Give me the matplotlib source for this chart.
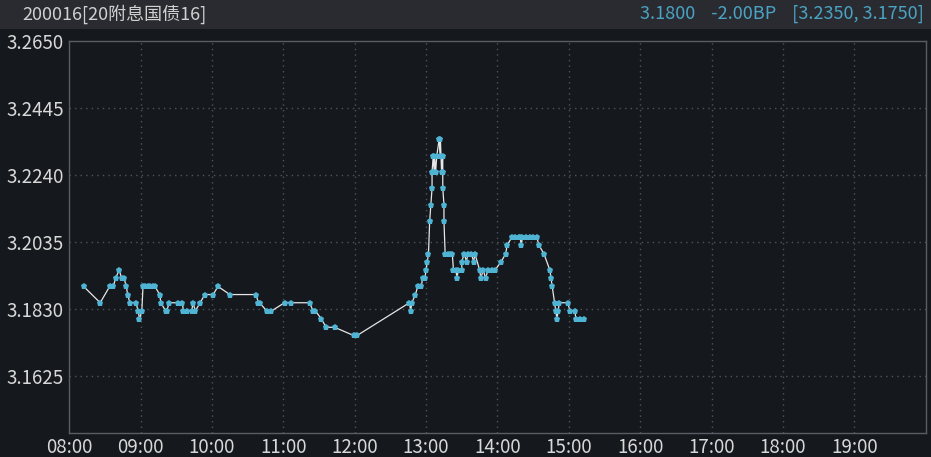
import matplotlib.pyplot as plt
from matplotlib.patches import Rectangle

plt.rcParams['font.family'] = ['Noto Sans CJK SC', 'DejaVu Sans']

title_left = "200016[20附息国债16]"
title_right = "3.1800    -2.00BP    [3.2350, 3.1750]"

y_ticks = [3.1625, 3.1830, 3.2035, 3.2240, 3.2445, 3.2650]
x_ticks = ["08:00", "09:00", "10:00", "11:00", "12:00", "13:00",
           "14:00", "15:00", "16:00", "17:00", "18:00", "19:00"]

times = [
    "08:12", "08:26", "08:34", "08:37", "08:39", "08:42", "08:44", "08:46",
    "08:48", "08:49", "08:51", "08:56", "08:58", "08:59", "09:01", "09:02",
    "09:04", "09:06", "09:08", "09:10", "09:12", "09:16", "09:17", "09:21",
    "09:22", "09:24", "09:31", "09:35", "09:36", "09:39", "09:43", "09:44",
    "09:46", "09:50", "09:54", "10:01", "10:05", "10:15", "10:37", "10:39",
    "10:40", "10:46", "10:50", "11:01", "11:06", "11:22", "11:25", "11:27",
    "11:32", "11:36", "11:43", "11:59", "12:02", "12:46", "12:47", "12:48",
    "12:51", "12:53", "12:56", "12:57", "12:59", "13:00", "13:01", "13:02",
    "13:03", "13:04", "13:05", "13:05", "13:06", "13:07", "13:07", "13:08",
    "13:09", "13:11", "13:12", "13:12", "13:13", "13:14", "13:14", "13:14",
    "13:15", "13:15", "13:16", "13:18", "13:20", "13:22", "13:23", "13:25",
    "13:26", "13:27", "13:30", "13:30", "13:32", "13:34", "13:35", "13:38",
    "13:40", "13:41", "13:45", "13:46", "13:48", "13:50", "13:52", "13:55",
    "13:58", "14:03", "14:07", "14:08", "14:12", "14:15", "14:18", "14:19",
    "14:20", "14:21", "14:24", "14:27", "14:30", "14:33", "14:35", "14:39",
    "14:44", "14:45", "14:46", "14:48", "14:49", "14:50", "14:51", "14:52",
    "14:59", "15:01", "15:05", "15:06", "15:09", "15:13",
]
prices = [
    3.1900, 3.1850, 3.1900, 3.1900, 3.1925, 3.1950, 3.1925, 3.1925,
    3.1900, 3.1875, 3.1850, 3.1850, 3.1825, 3.1800, 3.1825, 3.1900,
    3.1900, 3.1900, 3.1900, 3.1900, 3.1900, 3.1875, 3.1850, 3.1825,
    3.1825, 3.1850, 3.1850, 3.1850, 3.1825, 3.1825, 3.1825, 3.1850,
    3.1825, 3.1850, 3.1875, 3.1875, 3.1900, 3.1875, 3.1875, 3.1850,
    3.1850, 3.1825, 3.1825, 3.1850, 3.1850, 3.1850, 3.1825, 3.1825,
    3.1800, 3.1775, 3.1775, 3.1750, 3.1750, 3.1850, 3.1825, 3.1850,
    3.1875, 3.1900, 3.1900, 3.1925, 3.1925, 3.1950, 3.1975, 3.2000,
    3.2100, 3.2150, 3.2200, 3.2250, 3.2300, 3.2250, 3.2300, 3.2250,
    3.2300, 3.2350, 3.2300, 3.2350, 3.2250, 3.2300, 3.2250, 3.2200,
    3.2150, 3.2100, 3.2000, 3.2000, 3.2000, 3.2000, 3.1950, 3.1950,
    3.1925, 3.1950, 3.1950, 3.1975, 3.2000, 3.1975, 3.2000, 3.2000,
    3.1975, 3.2000, 3.1950, 3.1925, 3.1950, 3.1925, 3.1950, 3.1950,
    3.1950, 3.1975, 3.2000, 3.2025, 3.2050, 3.2050, 3.2050, 3.2050,
    3.2025, 3.2050, 3.2050, 3.2050, 3.2050, 3.2050, 3.2025, 3.2000,
    3.1950, 3.1925, 3.1900, 3.1850, 3.1825, 3.1800, 3.1825, 3.1850,
    3.1850, 3.1825, 3.1825, 3.1800, 3.1800, 3.1800,
]


def to_hours(s):
    h, m = s.split(":")
    return int(h) + int(m) / 60


bg = "#15181d"
fig = plt.figure(figsize=(9.31, 4.57), dpi=100, facecolor=bg)
fig.patches.append(Rectangle((0, 0.9376), 1, 0.0624, transform=fig.transFigure,
                             facecolor="#2a2b30", edgecolor="none", zorder=0))
fig.text(0.024, 0.969, title_left, color="#d0d0d0", fontsize=13,
         ha="left", va="center")
fig.text(0.992, 0.969, title_right, color="#4aa3c4", fontsize=13,
         ha="right", va="center")

ax = fig.add_axes([0.0744, 0.0519, 0.9199, 0.8584])
ax.set_facecolor(bg)

xs = [to_hours(t) for t in times]
ax.plot(xs, prices, color="#e6e6e6", linewidth=0.9, zorder=3)
ax.plot(xs, prices, linestyle="none", marker="p", markersize=4.6,
        color="#4fb3d3", markeredgewidth=0, zorder=4)

ax.set_xlim(8, 20)
ax.set_ylim(3.1451, 3.2650)
ax.set_xticks([to_hours(t) for t in x_ticks])
ax.set_xticklabels(x_ticks)
ax.set_yticks(y_ticks)
ax.set_yticklabels(["%.4f" % v for v in y_ticks])

for x in x_ticks[1:]:
    ax.axvline(to_hours(x), color="#50555c", linestyle=(0, (1, 3)),
               linewidth=1, zorder=1)
for y in y_ticks[:-1]:
    ax.axhline(y, color="#50555c", linestyle=(0, (1, 3)),
               linewidth=1, zorder=1)

ax.tick_params(length=0, colors="#d8d8d8", labelsize=13.5)
ax.tick_params(axis="y", pad=4)
ax.tick_params(axis="x", pad=3)
for sp in ax.spines.values():
    sp.set_color("#5a5e64")
    sp.set_linewidth(1)

fig.savefig("out.png", dpi=100, facecolor=bg)
